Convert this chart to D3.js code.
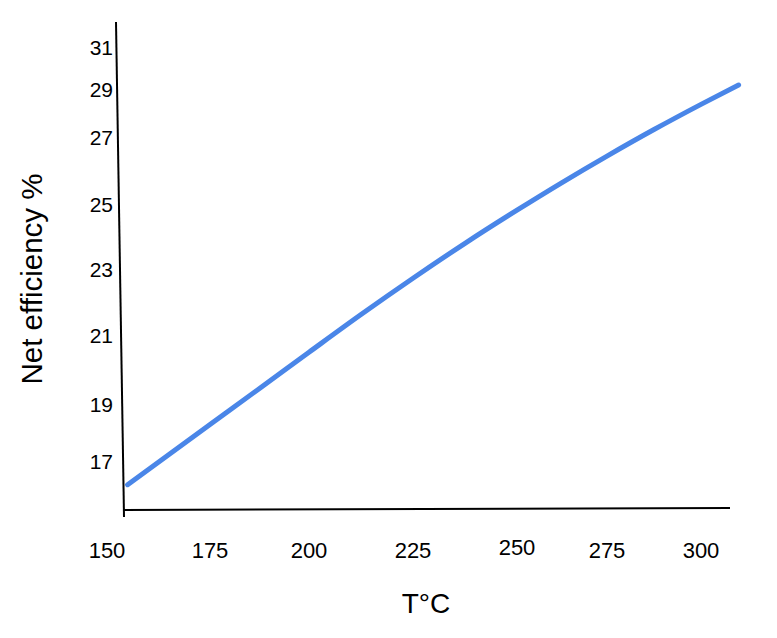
<!DOCTYPE html>
<html>
<head>
<meta charset="utf-8">
<script src="https://cdn.jsdelivr.net/npm/d3@7"></script>
<style>
  html, body { margin: 0; padding: 0; background: #ffffff; }
  svg { display: block; }
  text { font-family: "Liberation Sans", Arial, sans-serif; fill: #000; }
</style>
</head>
<body>
<svg id="chart" width="777" height="638"></svg>
<script>
// ---- data ----
const xTicks = [150, 175, 200, 225, 250, 275, 300];
const yTicks = [17, 19, 21, 23, 25, 27, 29, 31];
const temperature = [155, 175, 187.5, 200, 212.5, 225, 237.5, 250, 262.5, 275, 287.5, 300, 310];
const efficiency  = [16.17, 18.28, 19.45, 20.50, 21.62, 22.72, 23.79, 24.81, 25.64, 26.43, 27.31, 28.36, 29.19];
const xTitle = "T°C";
const yTitle = "Net efficiency %";

// ---- layout ----
const svg = d3.select("#chart");

// hand-drawn style axes: tick labels are unevenly spaced, so piecewise scales
const x = d3.scaleLinear()
  .domain(xTicks)
  .range([107, 210, 309, 413, 517, 607, 701]);
const y = d3.scaleLinear()
  .domain(yTicks)
  .range([461, 404, 335, 269, 204, 137, 89, 47]);

// axis frame lines (slightly slanted, as in the sketch)
svg.append("line")
  .attr("x1", 116).attr("y1", 22).attr("x2", 124).attr("y2", 517)
  .attr("stroke", "#000").attr("stroke-width", 2);
svg.append("line")
  .attr("x1", 124).attr("y1", 510).attr("x2", 730).attr("y2", 508)
  .attr("stroke", "#000").attr("stroke-width", 2);

// x tick labels
const xLabelDy = {250: -3};
svg.append("g").selectAll("text")
  .data(xTicks).enter().append("text")
  .attr("x", d => x(d))
  .attr("y", d => 558 + (xLabelDy[d] || 0))
  .attr("text-anchor", "middle")
  .attr("font-size", 22)
  .text(d => d);

// y tick labels
svg.append("g").selectAll("text")
  .data(yTicks).enter().append("text")
  .attr("x", 113)
  .attr("y", d => y(d))
  .attr("dy", "0.36em")
  .attr("text-anchor", "end")
  .attr("font-size", 21)
  .text(d => d);

// curve
const line = d3.line()
  .x((d, i) => x(temperature[i]))
  .y(d => y(d))
  .curve(d3.curveMonotoneX);
svg.append("path")
  .datum(efficiency)
  .attr("d", line)
  .attr("fill", "none")
  .attr("stroke", "#4a86e8")
  .attr("stroke-width", 5)
  .attr("stroke-linecap", "round")
  .attr("stroke-linejoin", "round");

// titles
svg.append("text")
  .attr("x", 426).attr("y", 613)
  .attr("text-anchor", "middle")
  .attr("font-size", 28)
  .text(xTitle);
svg.append("text")
  .attr("transform", "translate(42,279) rotate(-90)")
  .attr("text-anchor", "middle")
  .attr("font-size", 29.5)
  .text(yTitle);
</script>
</body>
</html>
